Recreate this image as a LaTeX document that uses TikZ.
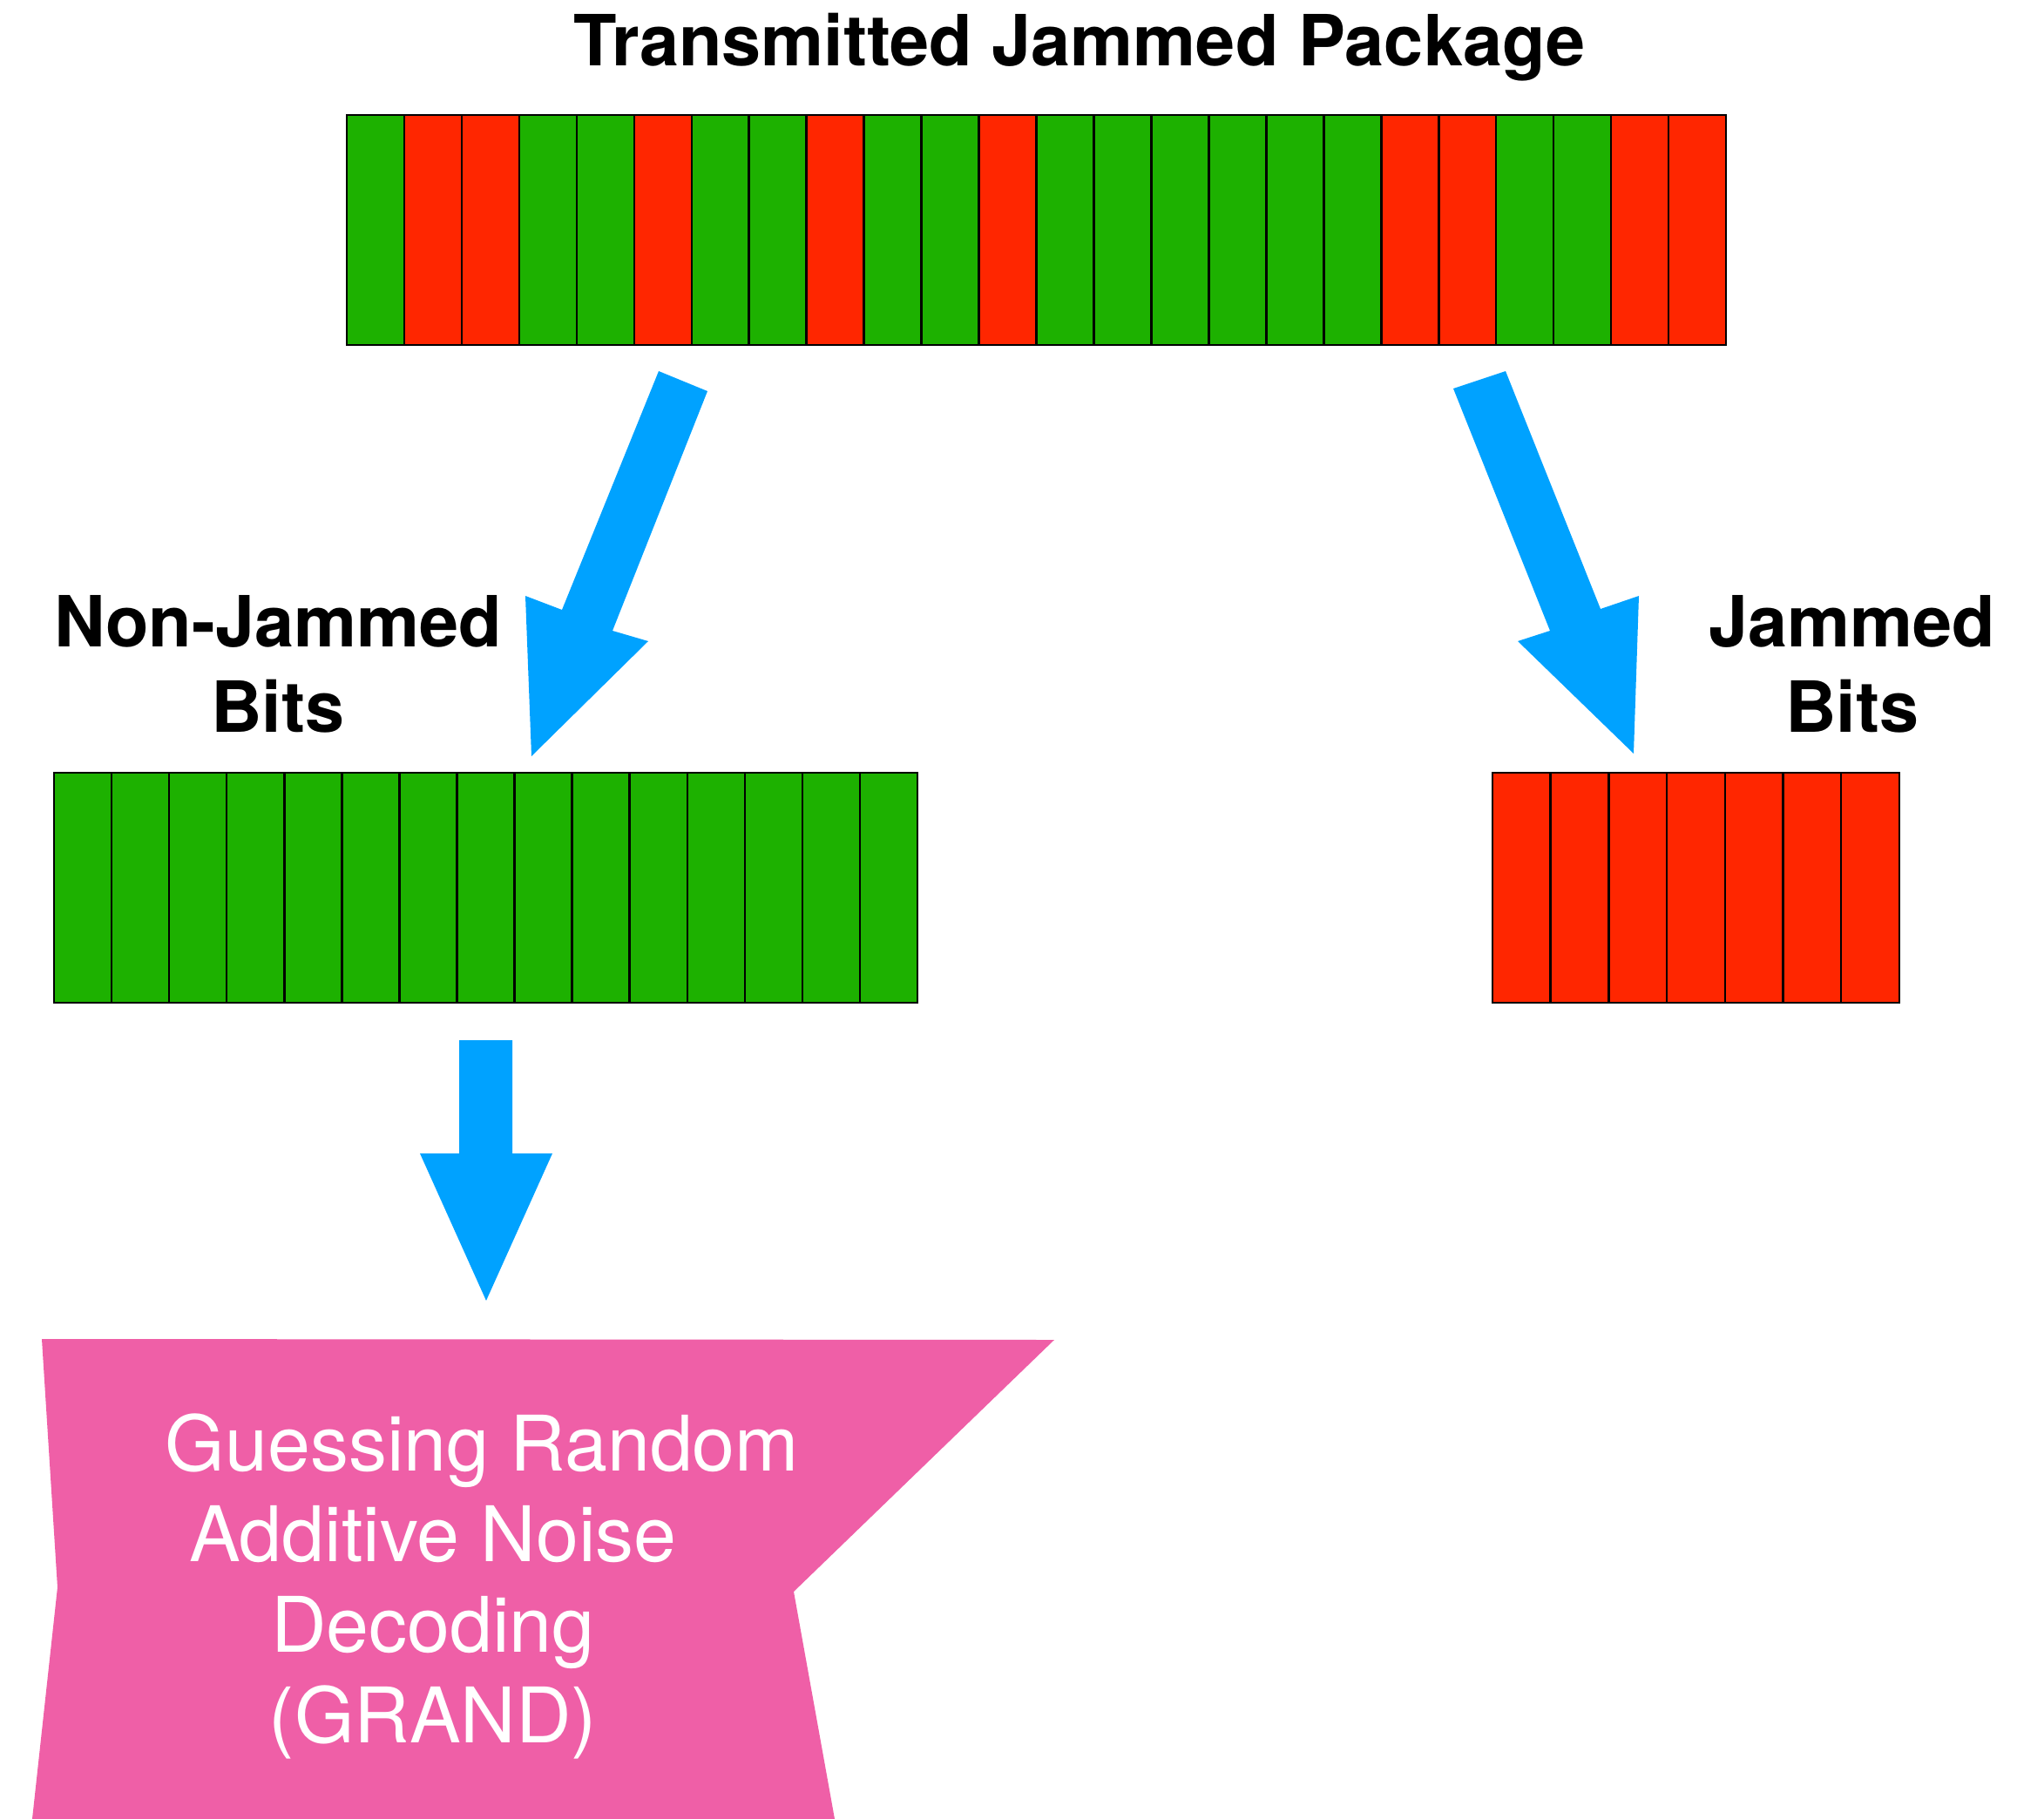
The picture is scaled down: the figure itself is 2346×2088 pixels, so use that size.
\documentclass[tikz,border=0pt]{standalone}
\usepackage{fontspec}
\setmainfont{TeX Gyre Heros}
\definecolor{jgreen}{HTML}{1DB100}
\definecolor{jred}{HTML}{FF2600}
\definecolor{jblue}{HTML}{00A2FF}
\definecolor{jpink}{HTML}{EF5FA7}
\begin{document}
\begin{tikzpicture}[x=1pt,y=-1pt,
  cell/.style={draw=black, line width=2.5pt, minimum height=264pt, inner sep=0pt, outer sep=0pt, anchor=north west},
  lbl/.style={font=\fontsize{81}{98}\selectfont\bfseries, align=center, inner sep=0pt, anchor=base},
  grandtxt/.style={font=\fontsize{88}{104}\selectfont, text=white, align=center, inner sep=0pt, anchor=base},
  blockarrow/.style={fill=jblue, draw=none},
  flag/.style={fill=jpink, draw=none}]
\useasboundingbox (0,0) rectangle (2346,2088);
\fill[white] (0,0) rectangle (2346,2088);

% transmitted package
\foreach \c [count=\i from 0] in {jgreen,jred,jred,jgreen,jgreen,jred,jgreen,jgreen,jred,jgreen,jgreen,jred,jgreen,jgreen,jgreen,jgreen,jgreen,jgreen,jred,jred,jgreen,jgreen,jred,jred}
  \node[cell, minimum width=65.96pt, fill=\c] (t\i) at ({398+65.96*\i},132) {};

% non-jammed bits
\foreach \i in {0,...,14}
  \node[cell, minimum width=66.07pt, fill=jgreen] (n\i) at ({62+66.07*\i},887) {};

% jammed bits
\foreach \i in {0,...,6}
  \node[cell, minimum width=66.7pt, fill=jred] (j\i) at ({1713+66.7*\i},887) {};

% labels (base anchor = baseline of the last line)
\node[lbl] (title) at (1239,75) {Transmitted Jammed Package};
\node[lbl] (nonjam) at (319,840) {Non-Jammed\\Bits};
\node[lbl] (jam) at (2126,840) {Jammed\\Bits};

% block arrows
\coordinate (la1) at (756,426); \coordinate (la2) at (812,449);
\coordinate (la3) at (703,724); \coordinate (la4) at (744,736);
\coordinate (la5) at (610,868); \coordinate (la6) at (603,684);
\coordinate (la7) at (645,700);
\fill[blockarrow] (la1) -- (la2) -- (la3) -- (la4) -- (la5) -- (la6) -- (la7) -- cycle;

\coordinate (ra1) at (1668,446); \coordinate (ra2) at (1728,426);
\coordinate (ra3) at (1837,699); \coordinate (ra4) at (1881,684);
\coordinate (ra5) at (1875,865); \coordinate (ra6) at (1742,736);
\coordinate (ra7) at (1779,724);
\fill[blockarrow] (ra1) -- (ra2) -- (ra3) -- (ra4) -- (ra5) -- (ra6) -- (ra7) -- cycle;

\coordinate (da1) at (527,1194); \coordinate (da2) at (588,1194);
\coordinate (da3) at (588,1324); \coordinate (da4) at (634,1324);
\coordinate (da5) at (558,1493); \coordinate (da6) at (482,1324);
\coordinate (da7) at (527,1324);
\fill[blockarrow] (da1) -- (da2) -- (da3) -- (da4) -- (da5) -- (da6) -- (da7) -- cycle;

% GRAND flag
\fill[flag] (48,1537) -- (1210,1538) -- (911,1827) -- (958,2088) -- (37,2088) -- (66,1822) -- cycle;
\node[grandtxt] (grand) at (497,2000) {\hspace*{113pt}Guessing Random\\Additive Noise\\Decoding\\(GRAND)};
\end{tikzpicture}
\end{document}
